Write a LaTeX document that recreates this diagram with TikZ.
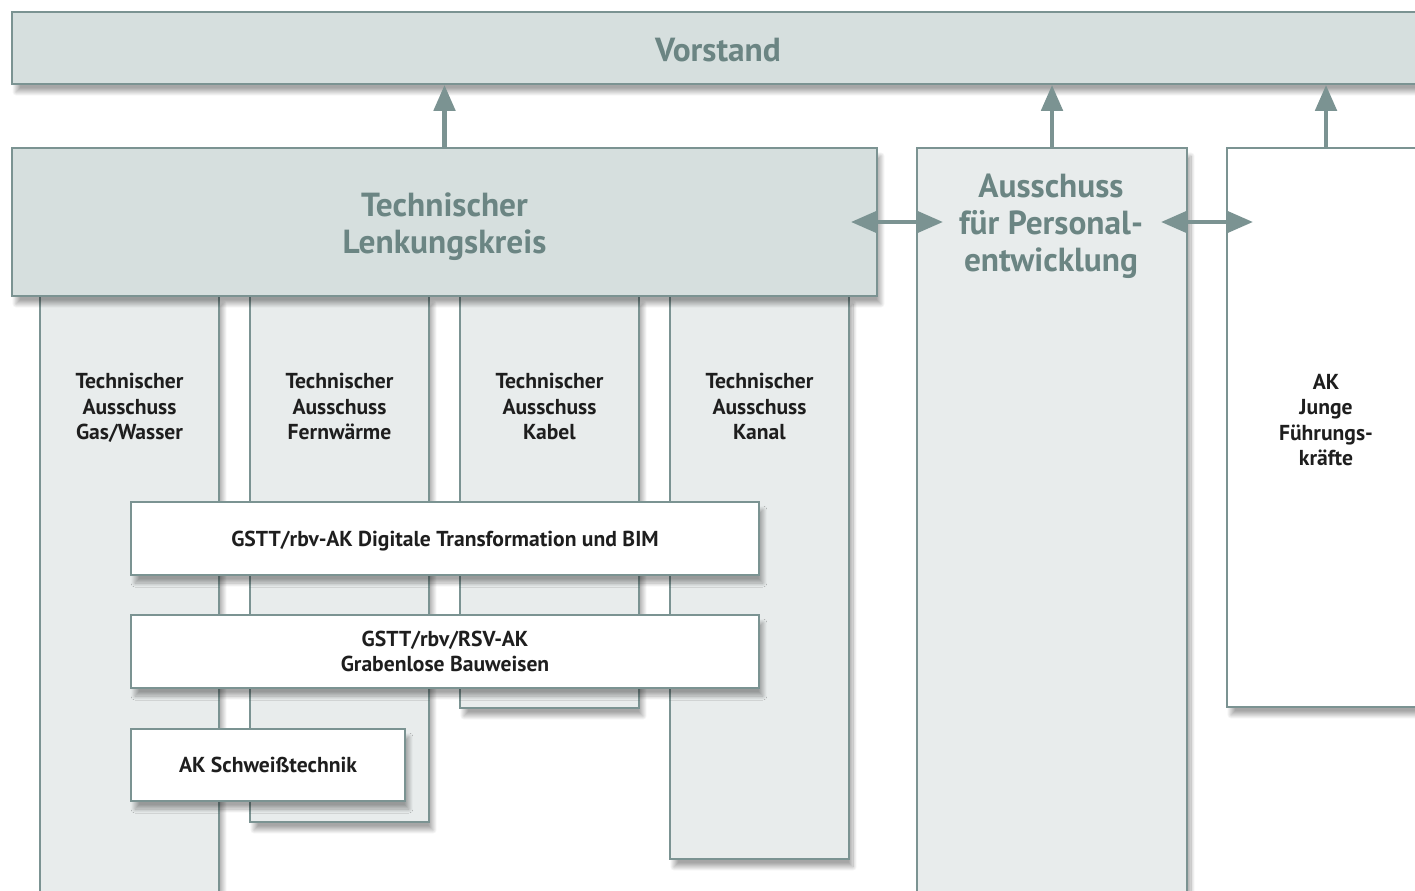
\documentclass[tikz,border=0pt]{standalone}
\usepackage{fontspec}
\setmainfont{PT Sans}
\usetikzlibrary{arrows.meta,positioning,shadows.blur}

\definecolor{rahmen}{HTML}{7B9392}
\definecolor{kopf}{HTML}{D6DFDE}
\definecolor{spalte}{HTML}{E8ECEC}
\definecolor{titel}{HTML}{6B8583}
\definecolor{schrift}{HTML}{1E1E1E}

\tikzset{
  kasten/.style={draw=rahmen, line width=1pt, inner sep=0pt,
    blur shadow={shadow xshift=0.8mm, shadow yshift=-1.6mm,
      shadow blur radius=0.8mm, shadow blur steps=20, shadow opacity=35}},
  titeltext/.style={font=\bfseries\fontsize{19}{21}\selectfont, text=titel, align=center, inner sep=0pt},
  spaltentext/.style={font=\bfseries\fontsize{12.3}{14.5}\selectfont, text=schrift, align=center, inner sep=0pt},
  pfeil/.style={draw=rahmen, line width=2.8pt, -{Triangle[length=0.52cm, width=0.42cm]}},
  doppelpfeil/.style={pfeil, {Triangle[length=0.52cm, width=0.42cm]}-{Triangle[length=0.52cm, width=0.42cm]},
    shorten <=-0.54cm, shorten >=-0.54cm}
}

\begin{document}
\begin{tikzpicture}[x=0.02cm, y=-0.02cm]
\useasboundingbox (0,0) rectangle (1415,891);
\clip (0,0) rectangle (1415,891);

% die vier technischen Ausschuesse
\foreach \i/\cx/\cy/\h/\was in {1/129.5/608/12.48/{Gas/Wasser}, 2/339.5/559/10.52/Fernwärme,
    3/549.5/502/8.24/Kabel, 4/759.5/577.5/11.26/Kanal}
{
  \node[kasten, fill=spalte, minimum width=3.58cm, minimum height=\h cm] (c\i) at (\cx,\cy) {};
  \node[spaltentext, below=1.56cm of c\i.north] (t\i) {Technischer\\Ausschuss\\\was};
}

\node[kasten, fill=kopf, minimum width=17.3cm, minimum height=2.96cm] (tl) at (444.5,222) {};
\node[titeltext] (tlt) at (444.5,226.5) {Technischer\\Lenkungskreis};

\node[kasten, fill=kopf, minimum width=28.24cm, minimum height=1.44cm] (vorstand) at (718,48) {};
\node[titeltext] (vt) at (718,50) {Vorstand};

\node[kasten, fill=spalte, minimum width=5.4cm, minimum height=15.44cm] (pe) at (1052,534) {};
\node[titeltext] (pet) at (1051,226.5) {Ausschuss\\für Personal-\\entwicklung};

\node[kasten, fill=white, minimum width=3.96cm, minimum height=11.18cm] (akj) at (1326,427.5) {};
\node[spaltentext, below=4.53cm of akj.north] (akjt) {AK\\Junge\\Führungs-\\kräfte};

% Arbeitskreise quer
\node[kasten, fill=white, spaltentext, text depth=0pt, minimum width=12.56cm, minimum height=1.46cm] (ak1) at (445,538.5)
  {GSTT/rbv-AK Digitale Transformation und BIM};
\node[kasten, fill=white, spaltentext, minimum width=12.56cm, minimum height=1.46cm] (ak2) at (445,651.5)
  {GSTT/rbv/RSV-AK\\Grabenlose Bauweisen};
\node[kasten, fill=white, spaltentext, minimum width=5.48cm, minimum height=1.44cm] (ak3) at (268,765)
  {AK Schweißtechnik};

\draw[pfeil] (tl.north) -- (vorstand.south -| tl.north);
\draw[pfeil] (pe.north) -- (vorstand.south -| pe.north);
\draw[pfeil] (akj.north) -- (vorstand.south -| akj.north);

\draw[doppelpfeil] (tl.east) -- (tl.east -| pe.west);
\draw[doppelpfeil] (tl.east -| pe.east) -- (tl.east -| akj.west);

\end{tikzpicture}
\end{document}
